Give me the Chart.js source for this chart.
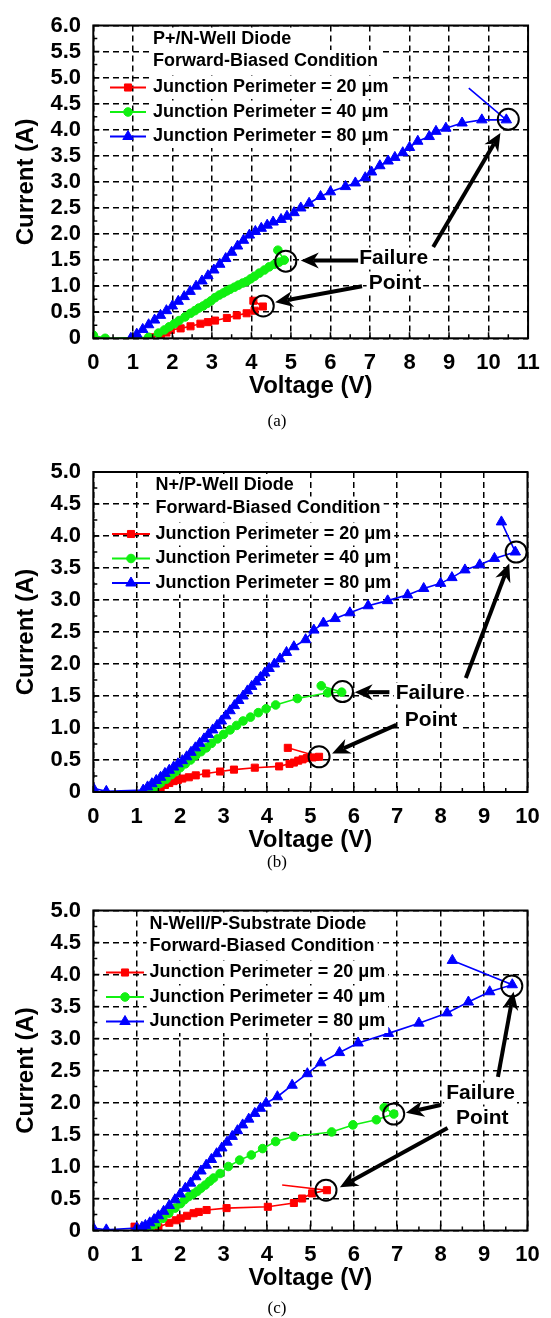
<!DOCTYPE html>
<html>
<head>
<meta charset="utf-8">
<script src="https://cdn.jsdelivr.net/npm/chart.js@4.4.0/dist/chart.umd.min.js"></script>
<style>
  body { margin: 0; background: #fff; width: 551px; height: 1318px; position: relative; overflow: hidden; }
  canvas { position: absolute; left: 0; }
</style>
</head>
<body>
<canvas id="painelA" width="551" height="440" style="top:0px"></canvas>
<canvas id="painelB" width="551" height="440" style="top:440px"></canvas>
<canvas id="painelC" width="551" height="438" style="top:880px"></canvas>
<script>
// dados (tensao em V, corrente em A)

// painel (a) P+/N-Well
var tensaoA20 = [1.45, 1.71, 1.85, 1.96, 2.21, 2.46, 2.71, 2.90, 3.08, 3.38, 3.63, 3.88, 4.08, 4.29, 4.05];
var correnteA20 = [0.02, 0.06, 0.11, 0.16, 0.19, 0.23, 0.28, 0.31, 0.34, 0.39, 0.44, 0.48, 0.53, 0.61, 0.72];
var tensaoA40 = [0.00, 0.30, 1.40, 1.65, 1.80, 1.92, 2.05, 2.17, 2.32, 2.46, 2.57, 2.67, 2.78, 2.88, 2.98, 3.08, 3.19, 3.29, 3.38, 3.46, 3.57, 3.67, 3.78, 3.88, 3.98, 4.08, 4.20, 4.33, 4.45, 4.58, 4.70, 4.83, 4.67];
var correnteA40 = [0.06, 0.00, 0.02, 0.10, 0.16, 0.22, 0.28, 0.34, 0.41, 0.48, 0.53, 0.58, 0.62, 0.67, 0.72, 0.78, 0.83, 0.87, 0.91, 0.94, 0.98, 1.02, 1.06, 1.09, 1.14, 1.19, 1.25, 1.31, 1.37, 1.42, 1.46, 1.50, 1.69];
var tensaoA80 = [0.95, 1.10, 1.25, 1.40, 1.55, 1.70, 1.85, 2.00, 2.15, 2.30, 2.45, 2.60, 2.75, 2.90, 3.05, 3.20, 3.35, 3.50, 3.65, 3.80, 3.95, 4.10, 4.25, 4.40, 4.55, 4.75, 4.90, 5.08, 5.25, 5.46, 5.75, 6.00, 6.38, 6.63, 6.88, 7.04, 7.25, 7.46, 7.63, 7.83, 8.00, 8.21, 8.50, 8.67, 8.92, 9.33, 9.83, 10.45, 9.50];
var correnteA80 = [0.00, 0.08, 0.17, 0.26, 0.35, 0.44, 0.53, 0.62, 0.71, 0.80, 0.90, 1.00, 1.10, 1.20, 1.31, 1.42, 1.53, 1.65, 1.77, 1.88, 1.98, 2.05, 2.11, 2.17, 2.23, 2.28, 2.34, 2.41, 2.50, 2.59, 2.72, 2.81, 2.91, 2.98, 3.08, 3.19, 3.31, 3.40, 3.47, 3.56, 3.66, 3.78, 3.87, 3.97, 4.03, 4.13, 4.19, 4.19, 4.80];

// painel (b) N+/P-Well
var tensaoB20 = [1.40, 1.55, 1.65, 1.75, 1.85, 1.95, 2.05, 2.20, 2.36, 2.60, 2.92, 3.24, 3.72, 4.28, 4.52, 4.62, 4.72, 4.82, 4.92, 5.05, 5.20, 4.48];
var correnteB20 = [0.03, 0.07, 0.11, 0.14, 0.17, 0.19, 0.21, 0.23, 0.26, 0.29, 0.32, 0.35, 0.38, 0.40, 0.44, 0.46, 0.49, 0.51, 0.53, 0.54, 0.55, 0.69];
var tensaoB40 = [1.35, 1.45, 1.55, 1.68, 1.80, 1.90, 2.00, 2.12, 2.24, 2.36, 2.48, 2.60, 2.72, 2.86, 3.00, 3.15, 3.30, 3.45, 3.62, 3.80, 3.98, 4.20, 4.70, 5.40, 5.72, 5.25];
var correnteB40 = [0.04, 0.09, 0.14, 0.20, 0.27, 0.32, 0.38, 0.44, 0.50, 0.57, 0.63, 0.69, 0.76, 0.83, 0.90, 0.97, 1.04, 1.11, 1.17, 1.24, 1.30, 1.36, 1.46, 1.55, 1.56, 1.66];
var tensaoB80 = [0.00, 0.30, 1.15, 1.25, 1.35, 1.45, 1.55, 1.65, 1.75, 1.85, 1.95, 2.05, 2.15, 2.25, 2.35, 2.45, 2.55, 2.65, 2.75, 2.85, 2.95, 3.05, 3.15, 3.25, 3.35, 3.45, 3.55, 3.65, 3.75, 3.85, 3.95, 4.05, 4.17, 4.30, 4.45, 4.62, 4.89, 5.08, 5.30, 5.57, 5.91, 6.33, 6.78, 7.24, 7.61, 8.00, 8.26, 8.56, 8.90, 9.24, 9.72, 9.40];
var correnteB80 = [0.06, 0.01, 0.03, 0.08, 0.13, 0.18, 0.23, 0.29, 0.34, 0.39, 0.44, 0.49, 0.55, 0.62, 0.69, 0.76, 0.83, 0.90, 0.97, 1.04, 1.11, 1.19, 1.27, 1.35, 1.43, 1.50, 1.58, 1.65, 1.72, 1.79, 1.86, 1.93, 2.00, 2.08, 2.18, 2.27, 2.38, 2.53, 2.64, 2.71, 2.80, 2.91, 2.99, 3.08, 3.18, 3.26, 3.35, 3.47, 3.55, 3.65, 3.75, 4.22];

// painel (c) N-Well/P-Substrate
var tensaoC20 = [0.95, 1.20, 1.50, 1.75, 1.90, 2.01, 2.16, 2.31, 2.43, 2.61, 3.07, 4.02, 4.62, 4.81, 5.04, 5.38, 4.35];
var correnteC20 = [0.06, 0.04, 0.05, 0.12, 0.16, 0.19, 0.23, 0.27, 0.29, 0.32, 0.35, 0.37, 0.43, 0.50, 0.58, 0.63, 0.71];
var tensaoC40 = [1.30, 1.45, 1.60, 1.74, 1.88, 2.01, 2.10, 2.20, 2.30, 2.39, 2.48, 2.58, 2.68, 2.77, 2.92, 3.11, 3.37, 3.64, 3.90, 4.20, 4.62, 5.49, 5.98, 6.52, 6.92, 6.70];
var correnteC40 = [0.04, 0.10, 0.19, 0.27, 0.35, 0.42, 0.48, 0.53, 0.57, 0.61, 0.66, 0.71, 0.77, 0.82, 0.89, 1.00, 1.10, 1.18, 1.28, 1.39, 1.47, 1.54, 1.65, 1.73, 1.82, 1.92];
var tensaoC80 = [0.00, 0.30, 1.00, 1.12, 1.20, 1.30, 1.40, 1.50, 1.62, 1.75, 1.88, 2.00, 2.12, 2.24, 2.36, 2.48, 2.60, 2.72, 2.84, 2.96, 3.08, 3.20, 3.32, 3.44, 3.58, 3.72, 3.85, 3.98, 4.24, 4.58, 4.93, 5.24, 5.67, 6.10, 6.80, 7.50, 8.15, 8.64, 9.13, 9.65, 8.27];
var correnteC80 = [0.04, 0.01, 0.04, 0.05, 0.08, 0.12, 0.17, 0.23, 0.30, 0.39, 0.48, 0.57, 0.66, 0.74, 0.84, 0.93, 1.02, 1.11, 1.20, 1.29, 1.38, 1.47, 1.56, 1.65, 1.74, 1.83, 1.91, 1.99, 2.09, 2.27, 2.45, 2.62, 2.78, 2.93, 3.08, 3.24, 3.40, 3.57, 3.73, 3.84, 4.22];

// textos da legenda
var nomesSeries = ['Junction Perimeter = 20 \u03bcm', 'Junction Perimeter = 40 \u03bcm', 'Junction Perimeter = 80 \u03bcm'];
var titulosA = ['P+/N-Well Diode', 'Forward-Biased Condition'];
var titulosB = ['N+/P-Well Diode', 'Forward-Biased Condition'];
var titulosC = ['N-Well/P-Substrate Diode', 'Forward-Biased Condition'];

// circulos de falha e setas (em unidades dos eixos)
var circulosA = [[10.5, 4.2], [4.87, 1.48], [4.3, 0.62]];
var setasA = [[6.7, 1.49, 5.25, 1.49], [6.8, 1.0, 4.6, 0.69], [8.6, 1.75, 10.3, 3.94]];
var circulosB = [[9.74, 3.75], [5.74, 1.57], [5.2, 0.55]];
var setasB = [[6.82, 1.56, 6.02, 1.56], [6.98, 1.05, 5.5, 0.6], [8.58, 1.78, 9.58, 3.57]];
var circulosC = [[9.64, 3.82], [6.92, 1.82], [5.36, 0.63]];
var setasC = [[9.32, 2.40, 9.68, 3.73], [8.0, 1.96, 7.2, 1.84], [8.16, 1.60, 5.68, 0.675]];

var fonte = '"Liberation Sans", Arial, sans-serif';
var cores = ['#ff0000', '#11f011', '#0000ff'];
var marcadores = ['rect', 'circle', 'triangle'];
var raios = [5, 4.3, 6];

// junta x e y em pontos
function juntaPontos(xs, ys) {
  var pts = [];
  for (var i = 0; i < xs.length; i++) {
    pts.push({ x: xs[i], y: ys[i] });
  }
  return pts;
}

// desenha um marcador igual ao do chart.js (pra legenda)
function desenhaMarcador(ctx, tipo, x, y, r, cor) {
  ctx.fillStyle = cor;
  ctx.strokeStyle = cor;
  ctx.lineWidth = 1;
  ctx.beginPath();
  if (tipo === 'rect') {
    var s = r * Math.SQRT1_2;
    ctx.rect(x - s, y - s, 2 * s, 2 * s);
  } else if (tipo === 'circle') {
    ctx.arc(x, y, r, 0, Math.PI * 2);
  } else {
    ctx.moveTo(x, y - r);
    ctx.lineTo(x + r * 0.866, y + r * 0.5);
    ctx.lineTo(x - r * 0.866, y + r * 0.5);
    ctx.closePath();
  }
  ctx.fill();
  ctx.stroke();
}

// seta preta grossa
function desenhaSeta(ctx, x1, y1, x2, y2) {
  var ang = Math.atan2(y2 - y1, x2 - x1);
  var c = Math.cos(ang), s = Math.sin(ang);
  var tam = 18, larg = 8;
  var bx = x2 - tam * c, by = y2 - tam * s;
  var nx = x2 - tam * 0.7 * c, ny = y2 - tam * 0.7 * s;
  ctx.strokeStyle = '#000';
  ctx.fillStyle = '#000';
  ctx.lineWidth = 4;
  ctx.beginPath();
  ctx.moveTo(x1, y1);
  ctx.lineTo(nx, ny);
  ctx.stroke();
  ctx.beginPath();
  ctx.moveTo(x2, y2);
  ctx.lineTo(bx - larg * s, by + larg * c);
  ctx.lineTo(nx, ny);
  ctx.lineTo(bx + larg * s, by - larg * c);
  ctx.closePath();
  ctx.fill();
}

// plugin das anotacoes (legenda dentro, failure point, moldura)
var pluginAnotacoes = {
  id: 'anotacoes',
  afterDatasetsDraw: function(chart) {
    var cfg = chart.options.plugins.anotacoes;
    var ctx = chart.ctx;
    var area = chart.chartArea;
    var sx = chart.scales.x, sy = chart.scales.y;
    ctx.save();

    // legenda: fundo branco primeiro, depois os textos
    var linhas = cfg.titulos.concat(nomesSeries);
    var ys = [13.5, 36, 62, 86.5, 111];
    ctx.font = 'bold 18px ' + fonte;
    ctx.textBaseline = 'middle';
    ctx.textAlign = 'left';
    ctx.fillStyle = '#fff';
    for (var i = 0; i < linhas.length; i++) {
      var w = ctx.measureText(linhas[i]).width;
      ctx.fillRect(cfg.textoX - 3, area.top + ys[i] - 11.5, w + 6, 23);
    }
    ctx.fillStyle = '#000';
    for (var i = 0; i < linhas.length; i++) {
      ctx.fillText(linhas[i], cfg.textoX, area.top + ys[i]);
    }
    for (var k = 0; k < 3; k++) {
      var yl = area.top + ys[k + 2];
      ctx.strokeStyle = cores[k];
      ctx.lineWidth = 2;
      ctx.beginPath();
      ctx.moveTo(cfg.amostra[0], yl);
      ctx.lineTo(cfg.amostra[1], yl);
      ctx.stroke();
      desenhaMarcador(ctx, marcadores[k], (cfg.amostra[0] + cfg.amostra[1]) / 2, yl, raios[k], cores[k]);
    }

    // texto Failure / Point com fundo branco
    ctx.font = 'bold 21px ' + fonte;
    ctx.textAlign = 'center';
    var textos = [['Failure', cfg.failure], ['Point', cfg.point]];
    for (var t = 0; t < textos.length; t++) {
      var px = sx.getPixelForValue(textos[t][1][0]);
      var py = sy.getPixelForValue(textos[t][1][1]);
      var wt = ctx.measureText(textos[t][0]).width;
      ctx.fillStyle = '#fff';
      ctx.fillRect(px - wt / 2 - 2, py - 11, wt + 4, 22);
      ctx.fillStyle = '#000';
      ctx.fillText(textos[t][0], px, py);
    }

    // setas
    for (var a = 0; a < cfg.setas.length; a++) {
      var s = cfg.setas[a];
      desenhaSeta(ctx, sx.getPixelForValue(s[0]), sy.getPixelForValue(s[1]),
                  sx.getPixelForValue(s[2]), sy.getPixelForValue(s[3]));
    }

    // circulos pretos
    ctx.strokeStyle = '#000';
    ctx.lineWidth = 2;
    for (var c = 0; c < cfg.circulos.length; c++) {
      ctx.beginPath();
      ctx.arc(sx.getPixelForValue(cfg.circulos[c][0]), sy.getPixelForValue(cfg.circulos[c][1]), 10.5, 0, Math.PI * 2);
      ctx.stroke();
    }
    ctx.restore();
  },
  afterDraw: function(chart) {
    var cfg = chart.options.plugins.anotacoes;
    var ctx = chart.ctx;
    var area = chart.chartArea;
    var sx = chart.scales.x, sy = chart.scales.y;
    ctx.save();
    // tracinhos pra dentro (maiores e menores)
    ctx.strokeStyle = '#000';
    ctx.lineWidth = 1.5;
    ctx.beginPath();
    for (var v = 0; v <= sx.max + 0.001; v += 0.5) {
      var x = sx.getPixelForValue(v);
      var tam = (Math.abs(v - Math.round(v)) < 0.01) ? 6 : 4;
      ctx.moveTo(x, area.bottom);
      ctx.lineTo(x, area.bottom - tam);
    }
    for (var u = 0; u <= sy.max + 0.001; u += 0.25) {
      var y = sy.getPixelForValue(u);
      var tam2 = (Math.abs(u * 2 - Math.round(u * 2)) < 0.01) ? 6 : 4;
      ctx.moveTo(area.left, y);
      ctx.lineTo(area.left + tam2, y);
    }
    ctx.stroke();
    // moldura
    ctx.lineWidth = 2;
    ctx.strokeRect(area.left, area.top, area.right - area.left, area.bottom - area.top);
    // legenda (a), (b), (c)
    ctx.font = '17px "Liberation Serif", "Times New Roman", serif';
    ctx.fillStyle = '#000';
    ctx.textAlign = 'center';
    ctx.textBaseline = 'middle';
    ctx.fillText(cfg.rotulo, 277, cfg.rotuloY);
    ctx.restore();
  }
};

// cria um painel
function criaPainel(config) {
  var datasets = [];
  for (var k = 0; k < 3; k++) {
    var semUltimo = config.semUltimo[k];
    var n = config.xs[k].length;
    datasets.push({
      data: juntaPontos(config.xs[k], config.ys[k]),
      showLine: true,
      borderColor: cores[k],
      backgroundColor: cores[k],
      borderWidth: 1.6,
      pointStyle: marcadores[k],
      pointRadius: (function(r, sem, tot) {
        return function(c) { return (sem && c.dataIndex === tot - 1) ? 0 : r; };
      })(raios[k], semUltimo, n),
      pointBorderWidth: 1,
      tension: 0,
      order: 3 - k
    });
  }

  var fonteTicks = { family: fonte, size: 22, weight: 'bold' };
  var fonteTitulo = { family: fonte, size: 24, weight: 'bold' };

  new Chart(document.getElementById(config.id), {
    type: 'scatter',
    data: { datasets: datasets },
    plugins: [pluginAnotacoes],
    options: {
      responsive: false,
      animation: false,
      events: [],
      layout: { padding: { top: config.padTopo, bottom: config.padBaixo, left: 0, right: 17.7 } },
      plugins: {
        legend: { display: false },
        tooltip: { enabled: false },
        anotacoes: {
          titulos: config.titulos,
          textoX: config.textoX,
          amostra: config.amostra,
          failure: config.failure,
          point: config.point,
          setas: config.setas,
          circulos: config.circulos,
          rotulo: config.rotulo,
          rotuloY: config.rotuloY
        }
      },
      scales: {
        x: {
          type: 'linear',
          min: 0,
          max: config.xMax,
          ticks: { stepSize: 1, autoSkip: false, maxRotation: 0, padding: 11.3, color: '#000', font: fonteTicks },
          grid: { color: '#000', lineWidth: 1.5, drawTicks: false },
          border: { display: false, dash: [6, 4] },
          title: { display: true, text: 'Voltage (V)', color: '#000', font: fonteTitulo, padding: 0 },
          afterFit: function(e) { e.height = 62.7; }
        },
        y: {
          type: 'linear',
          min: 0,
          max: config.yMax,
          ticks: {
            stepSize: 0.5, autoSkip: false, padding: 12.3, color: '#000', font: fonteTicks,
            callback: function(v) { return v === 0 ? '0' : v.toFixed(1); }
          },
          grid: { color: '#000', lineWidth: 1.5, drawTicks: false },
          border: { display: false, dash: [6, 4] },
          title: { display: true, text: 'Current (A)', color: '#000', font: fonteTitulo, padding: { top: 11.6, bottom: 0 } },
          afterFit: function(e) { e.width = 93.3; }
        }
      }
    }
  });
}

criaPainel({
  id: 'painelA', xMax: 11, yMax: 6, padTopo: 18.3, padBaixo: 39,
  xs: [tensaoA20, tensaoA40, tensaoA80], ys: [correnteA20, correnteA40, correnteA80],
  semUltimo: [false, false, true],
  titulos: titulosA, textoX: 153, amostra: [110, 146],
  failure: [7.6, 1.53], point: [7.63, 1.06],
  setas: setasA, circulos: circulosA, rotulo: '(a)', rotuloY: 421.7
});

criaPainel({
  id: 'painelB', xMax: 10, yMax: 5, padTopo: 32, padBaixo: 25.3,
  xs: [tensaoB20, tensaoB40, tensaoB80], ys: [correnteB20, correnteB40, correnteB80],
  semUltimo: [false, false, false],
  titulos: titulosB, textoX: 155.6, amostra: [112, 150],
  failure: [7.76, 1.54], point: [7.78, 1.125],
  setas: setasB, circulos: circulosB, rotulo: '(b)', rotuloY: 422.7
});

criaPainel({
  id: 'painelC', xMax: 10, yMax: 5, padTopo: 30.5, padBaixo: 24.8,
  xs: [tensaoC20, tensaoC40, tensaoC80], ys: [correnteC20, correnteC40, correnteC80],
  semUltimo: [true, false, false],
  titulos: titulosC, textoX: 149.6, amostra: [106, 144],
  failure: [8.92, 2.14], point: [8.96, 1.75],
  setas: setasC, circulos: circulosC, rotulo: '(c)', rotuloY: 428.3
});
</script>
</body>
</html>
